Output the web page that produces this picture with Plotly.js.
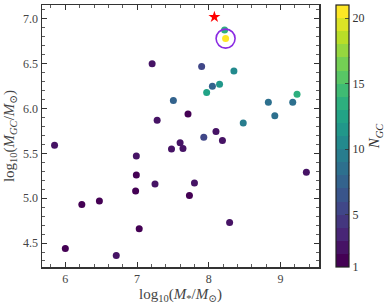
<!DOCTYPE html>
<html>
<head>
<meta charset="utf-8">
<script src="https://cdn.plot.ly/plotly-3.0.1.min.js"></script>
<style>html,body{margin:0;padding:0;background:#fff;}#chart{width:391px;height:306px;}</style>
</head>
<body>
<div id="chart"></div>
<script>
// Galaxy sample: log10 stellar mass, log10 GC system mass, number of GCs
const logMstar = [5.85, 6.00, 6.23, 6.475, 6.71, 6.99, 6.99, 6.98, 7.03, 7.25, 7.21, 7.28, 7.48, 7.506, 7.60, 7.64, 7.71, 7.73, 7.80, 7.90, 7.93, 7.97, 8.05, 8.10, 8.15, 8.19, 8.22, 8.234, 8.29, 8.35, 8.48, 8.83, 8.92, 9.17, 9.23, 9.36];
const logMgc   = [5.59, 4.44, 4.93, 4.97, 4.36, 5.47, 5.26, 5.08, 4.66, 5.16, 6.50, 5.87, 5.55, 6.09, 5.62, 5.555, 5.94, 5.03, 5.17, 6.47, 5.68, 6.18, 6.25, 5.745, 6.27, 5.645, 6.875, 6.78, 4.73, 6.42, 5.84, 6.07, 5.92, 6.07, 6.16, 5.29];
const nGC      = [2, 1, 1, 1, 2, 2, 1, 1, 1, 2, 2, 2, 2, 7, 2, 2, 1, 1, 2, 5, 5, 12, 7, 2, 11, 2, 13, 20, 2, 10, 9, 8, 8, 8, 13, 2];
// Highlighted galaxy (circled) and reference star
const highlightX = [8.234];
const highlightY = [6.78];
const starX = [8.078];
const starY = [7.022];
// Colorbar
const cbMin = 1, cbMax = 21;
const cbTickVals = [1, 5, 10, 15, 20];
const cbTickText = ['1', '5', '10', '15', '20'];
const cbMinorVals = [2,3,4,6,7,8,9,11,12,13,14,16,17,18,19];

// matplotlib viridis anchors
const vir = ['#440154','#482475','#414487','#355f8d','#2a788e','#21918c','#22a884','#44bf70','#7ad151','#bddf26','#fde725'];
function hex2rgb(h){return [parseInt(h.slice(1,3),16),parseInt(h.slice(3,5),16),parseInt(h.slice(5,7),16)];}
function viridis(t){
  const p = t*10, i = Math.min(9, Math.floor(p)), f = p - i;
  const a = hex2rgb(vir[i]), b = hex2rgb(vir[i+1]);
  const c = a.map((v,k)=>Math.round(v + (b[k]-v)*f));
  return 'rgb('+c.join(',')+')';
}
const nBands = cbMax - cbMin;
const cscale = [];
for (let k=0;k<nBands;k++){
  const col = viridis(k/(nBands-1));
  cscale.push([k/nBands, col]);
  cscale.push([(k+1)/nBands - (k===nBands-1?0:1e-5), col]);
}

const font = 'Liberation Serif, DejaVu Serif, serif';
const plotW = 391 - 42 - 68;
const cbX = 1.063, cbThick = 13;
const cbRight = cbX + cbThick/plotW;
const minorLen = 4/plotW;

const shapes = cbMinorVals.map(v => ({
  type: 'line', xref: 'paper', yref: 'paper',
  x0: cbRight - minorLen, x1: cbRight,
  y0: (v-cbMin)/(cbMax-cbMin), y1: (v-cbMin)/(cbMax-cbMin),
  line: {color: '#333', width: 0.8}
}));

const traces = [
  {
    x: logMstar, y: logMgc, type: 'scatter', mode: 'markers',
    marker: {
      size: 7, color: nGC, cmin: cbMin, cmax: cbMax, colorscale: cscale,
      line: {width: 0},
      colorbar: {
        x: cbX, xanchor: 'left', y: 0.5, yanchor: 'middle', len: 1, lenmode: 'fraction',
        thickness: cbThick, thicknessmode: 'pixels',
        outlinewidth: 1.2, outlinecolor: '#222',
        tickmode: 'array', tickvals: cbTickVals, ticktext: cbTickText,
        ticks: 'inside', ticklen: 4, tickcolor: '#333', tickwidth: 0.8,
        tickfont: {family: font, size: 12, color: '#333'},
        title: {text: '<i>N</i><sub><i>GC</i></sub>', side: 'right', font: {family: font, size: 15, color: '#333'}},
        xpad: 0, ypad: 0
      }
    },
    showlegend: false, hoverinfo: 'x+y'
  },
  {
    x: highlightX, y: highlightY, type: 'scatter', mode: 'markers',
    marker: {symbol: 'circle-open', size: 19, color: '#8a2be2', line: {width: 1.6, color: '#8a2be2'}},
    showlegend: false
  },
  {
    x: starX, y: starY, type: 'scatter', mode: 'markers',
    marker: {symbol: 'star', size: 9, color: '#ff0000', line: {width: 0}},
    showlegend: false
  }
];

const axisCommon = {
  showgrid: false, zeroline: false, showline: true, linecolor: '#333', linewidth: 1.5,
  mirror: 'allticks', ticks: 'inside', ticklen: 5, tickwidth: 1, tickcolor: '#333',
  tickfont: {family: font, size: 12, color: '#444'}
};

const layout = {
  width: 391, height: 306,
  margin: {l: 42, r: 68, t: 5, b: 39},
  paper_bgcolor: '#fff', plot_bgcolor: '#fff',
  shapes: shapes,
  xaxis: Object.assign({}, axisCommon, {
    range: [5.675, 9.536], tick0: 6, dtick: 1,
    minor: {dtick: 0.2, ticks: 'inside', ticklen: 3, tickcolor: '#333', tickwidth: 0.8},
    title: {text: 'log<sub>10</sub>(<i>M</i><sub>*</sub>/<i>M</i><sub>⊙</sub>)', font: {family: font, size: 15, color: '#444'}, standoff: 2}
  }),
  yaxis: Object.assign({}, axisCommon, {
    range: [4.233, 7.155], tick0: 4.5, dtick: 0.5, tickformat: '.1f',
    minor: {dtick: 0.1, ticks: 'inside', ticklen: 3, tickcolor: '#333', tickwidth: 0.8},
    title: {text: 'log<sub>10</sub>(<i>M</i><sub><i>GC</i></sub>/<i>M</i><sub>⊙</sub>)', font: {family: font, size: 15, color: '#444'}, standoff: 5}
  })
};

Plotly.newPlot('chart', traces, layout, {displayModeBar: false, staticPlot: true});
</script>
</body>
</html>
